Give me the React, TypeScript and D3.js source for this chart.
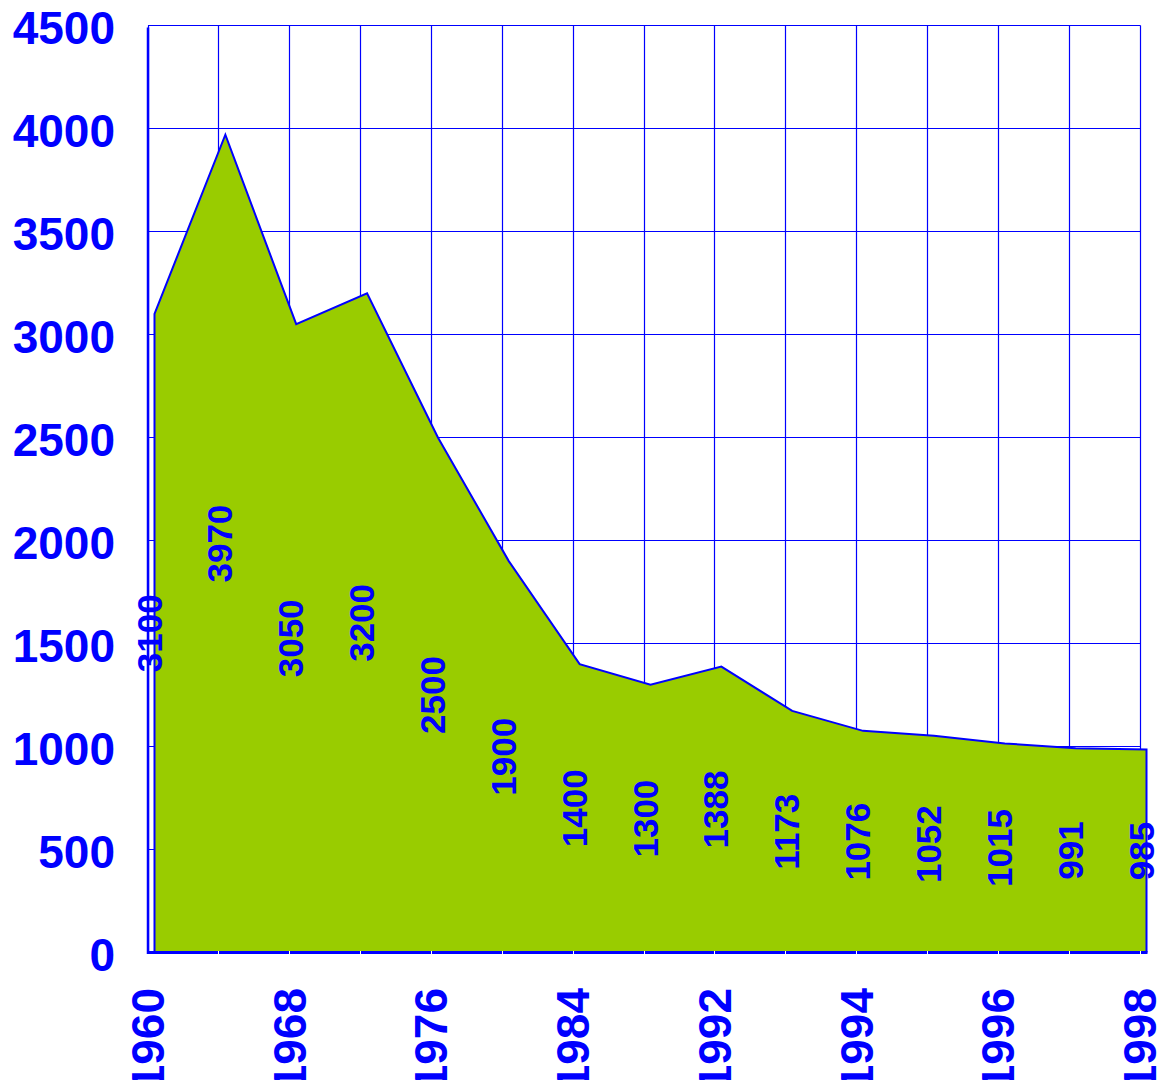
import { useMemo } from 'react'
import * as d3 from 'd3'

// x categories; only every other one carries a visible label in the source
const xLabels = ['1960', '', '1968', '', '1976', '', '1984', '', '1992', '', '1994', '', '1996', '', '1998']
const values = [3100, 3970, 3050, 3200, 2500, 1900, 1400, 1300, 1388, 1173, 1076, 1052, 1015, 991, 985]
const yTicks = [0, 500, 1000, 1500, 2000, 2500, 3000, 3500, 4000, 4500]

const WIDTH = 1158
const HEIGHT = 1080
const BLUE = '#0000ff'
const GREEN = '#99cc00'
const FONT = '"Liberation Sans", Arial, sans-serif'

// plot box
const LEFT = 148
const RIGHT = 1140
const TOP = 25.5
const BOTTOM = 952.5
const AREA_SHIFT = 6.5 // the filled area sits a little right of the grid

// snap thin lines to the pixel grid so they stay crisp
const crisp = (v: number) => Math.round(v - 0.5) + 0.5

const App = () => {
  const idx = xLabels.map((_, i) => i)

  const xScale = useMemo(
    () => d3.scaleLinear().domain([0, xLabels.length - 1]).range([LEFT, RIGHT]),
    []
  )
  const yScale = useMemo(() => d3.scaleLinear().domain([0, 4500]).range([BOTTOM, TOP]), [])

  const areaPath = d3
    .area<number>()
    .x((i) => xScale(i) + AREA_SHIFT)
    .y0(yScale(0))
    .y1((i) => yScale(values[i]))(idx)

  const outline = d3
    .line<[number, number]>()
    .x((d) => d[0])
    .y((d) => d[1])([
      [xScale(0) + AREA_SHIFT, yScale(0)],
      ...idx.map((i) => [xScale(i) + AREA_SHIFT, yScale(values[i])] as [number, number]),
      [xScale(idx.length - 1) + AREA_SHIFT, yScale(0)],
    ])

  return (
    <svg width={WIDTH} height={HEIGHT} style={{ position: 'absolute', left: 0, top: 0, background: '#fff' }}>
      {/* grid */}
      {yTicks.map((t) => (
        <line
          key={'h' + t}
          x1={LEFT}
          x2={crisp(RIGHT)}
          y1={crisp(yScale(t))}
          y2={crisp(yScale(t))}
          stroke={BLUE}
          strokeWidth={1.2}
        />
      ))}
      {idx.map((i) => (
        <line
          key={'v' + i}
          x1={crisp(xScale(i))}
          x2={crisp(xScale(i))}
          y1={TOP}
          y2={BOTTOM}
          stroke={BLUE}
          strokeWidth={1.2}
        />
      ))}

      {/* area */}
      <path d={areaPath ?? ''} fill={GREEN} stroke="none" />
      <path d={outline ?? ''} fill="none" stroke={BLUE} strokeWidth={2} strokeLinejoin="miter" />

      {/* axes */}
      <line x1={LEFT} x2={LEFT} y1={TOP + 2} y2={BOTTOM + 1.5} stroke={BLUE} strokeWidth={2.5} />
      <line x1={LEFT} x2={RIGHT + AREA_SHIFT + 1} y1={BOTTOM} y2={BOTTOM} stroke={BLUE} strokeWidth={3} />
      {idx.slice(1).map((i) => (
        <line
          key={'t' + i}
          x1={crisp(xScale(i))}
          x2={crisp(xScale(i))}
          y1={BOTTOM - 1.5}
          y2={BOTTOM + 1.5}
          stroke="#fff"
          strokeWidth={1}
        />
      ))}

      {/* y tick labels */}
      {yTicks.map((t) => (
        <text
          key={'yl' + t}
          x={115}
          y={yScale(t) + 18}
          textAnchor="end"
          fontFamily={FONT}
          fontWeight="bold"
          fontSize={46}
          fill={BLUE}
        >
          {t}
        </text>
      ))}

      {/* x tick labels (cut by the bottom edge, as in the source) */}
      {idx.map((i) =>
        xLabels[i] ? (
          <text
            key={'xl' + i}
            transform={`translate(${xScale(i) + 16},${988}) rotate(-90)`}
            textAnchor="end"
            fontFamily={FONT}
            fontWeight="bold"
            fontSize={46}
            fill={BLUE}
          >
            {xLabels[i]}
          </text>
        ) : null
      )}

      {/* value labels */}
      {idx.map((i) => (
        <text
          key={'vl' + i}
          transform={`translate(${xScale(i) + 13.5},${yScale(values[i] / 2)}) rotate(-90)`}
          textAnchor="middle"
          fontFamily={FONT}
          fontWeight="bold"
          fontSize={35}
          fill={BLUE}
        >
          {values[i]}
        </text>
      ))}
    </svg>
  )
}

export default App
